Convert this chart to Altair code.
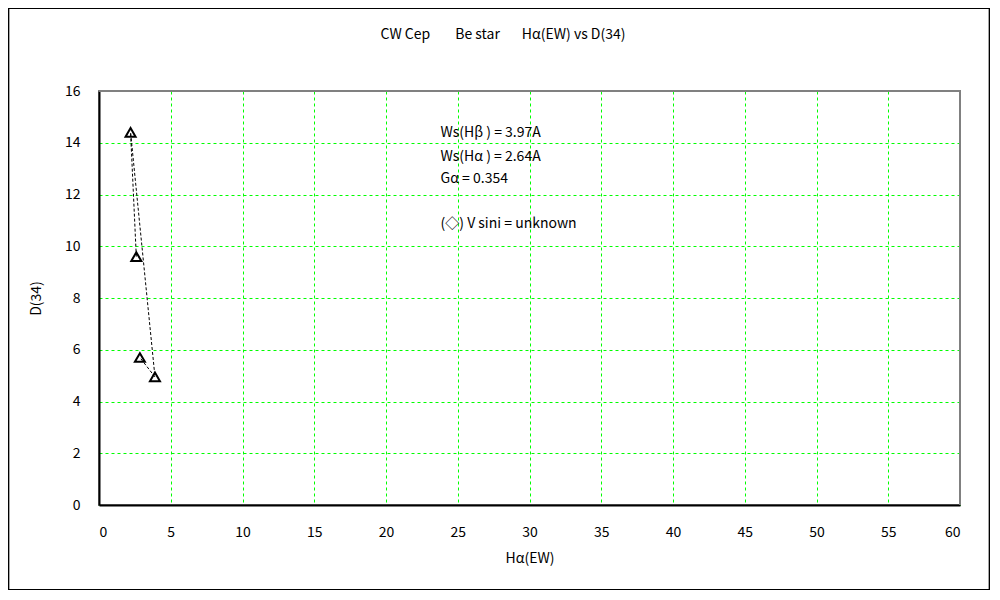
import altair as alt
import pandas as pd

# data (order as connected in the reference)
ha_ew = [2.6, 2.2, 3.9, 2.85]
d34 = [9.6, 14.4, 4.95, 5.7]

note_x = [23.8, 23.8, 23.8, 23.8]
note_y = [14.38, 13.45, 12.6, 10.86]
note_txt = ["Ws(Hβ ) = 3.97A", "Ws(Hα ) = 2.64A", "Gα = 0.354", "(◇) V sini = unknown"]

NB = "\u00a0"
title_txt = "CW Cep" + NB * 8 + "Be star" + NB * 7 + "Hα(EW) vs D(34)"

x_ticks = list(range(0, 61, 5))
y_ticks = list(range(0, 17, 2))

FONT = "Noto Sans CJK JP"
W, H = 861, 414
PAD = {"left": 91, "top": 83, "right": 30, "bottom": 85}

df = pd.DataFrame({"x": ha_ew, "y": d34, "idx": list(range(len(ha_ew)))})
notes = pd.DataFrame({"x": note_x, "y": note_y, "t": note_txt})
tdf = pd.DataFrame({"t": [title_txt]})

xs = alt.Scale(domain=[0, 60], nice=False, zero=False)
ys = alt.Scale(domain=[0, 16], nice=False, zero=False)

xax = alt.Axis(values=x_ticks, title="Hα(EW)", grid=True, ticks=False, labelPadding=20,
               titlePadding=12)
yax = alt.Axis(values=y_ticks, title="D(34)", grid=True, ticks=False, labelPadding=19,
               titlePadding=21)

base = alt.Chart(df)

line = base.mark_line(color="black", strokeWidth=1, strokeDash=[3, 2]).encode(
    x=alt.X("x:Q", scale=xs, axis=xax),
    y=alt.Y("y:Q", scale=ys, axis=yax),
    order=alt.Order("idx:Q"),
)

pts = base.mark_point(shape="triangle-up", size=100, color="black", filled=False,
                      strokeWidth=2, opacity=1).encode(
    x=alt.X("x:Q", scale=xs),
    y=alt.Y("y:Q", scale=ys),
)

txt = alt.Chart(notes).mark_text(align="left", baseline="middle", font=FONT,
                                 fontSize=14, color="black").encode(
    x=alt.X("x:Q", scale=xs),
    y=alt.Y("y:Q", scale=ys),
    text="t:N",
)

title = alt.Chart(tdf).mark_text(align="center", baseline="middle", font=FONT,
                                 fontSize=14, color="black", clip=False).encode(
    x=alt.value(404), y=alt.value(-56), text="t:N",
)

frame = alt.Chart(df).mark_rect(fillOpacity=0, stroke="black", strokeWidth=1.2,
                                clip=False).encode(
    x=alt.value(-90.5), x2=alt.value(W + PAD["right"] - 0.5),
    y=alt.value(-82.5), y2=alt.value(H + PAD["bottom"] - 0.5),
)

top_edge = alt.Chart(df).mark_rule(color="#808080", strokeWidth=2, clip=False).encode(
    x=alt.value(0), x2=alt.value(W), y=alt.value(0)
)
right_edge = alt.Chart(df).mark_rule(color="#808080", strokeWidth=2, clip=False).encode(
    x=alt.value(W), y=alt.value(0), y2=alt.value(H)
)

chart = alt.layer(frame, top_edge, right_edge, line, pts, txt, title).properties(
    width=W, height=H,
    autosize="none",
    padding=PAD,
    background="white",
).configure_view(
    stroke="#808080", strokeWidth=2
).configure_axis(
    gridColor="#00FF00", gridDash=[3, 3], gridWidth=1, gridOpacity=1,
    domainColor="black", domainWidth=2,
    labelFont=FONT, labelFontSize=14, labelColor="black",
    titleFont=FONT, titleFontSize=14, titleFontWeight="normal", titleColor="black",
)

chart.save("out.html", embed_options={"renderer": "svg", "actions": False})
